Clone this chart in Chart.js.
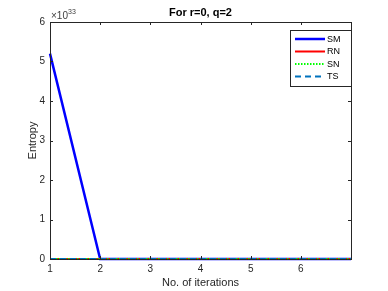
<!DOCTYPE html>
<html>
<head>
<meta charset="utf-8">
<script src="https://cdn.jsdelivr.net/npm/chart.js@4"></script>
<style>
  html, body { margin: 0; padding: 0; background: #fff; }
  #wrap { width: 388px; height: 291px; }
</style>
</head>
<body>
<div id="wrap"><canvas id="c" width="388" height="291"></canvas></div>
<script>
// iterations and entropy values (units of 1e33)
const iterations = [1, 2, 3, 4, 5, 6, 7];
const smValues = [5.2, 0, 0, 0, 0, 0, 0];
const rnValues = [0, 0, 0, 0, 0, 0, 0];
const snValues = [0, 0, 0, 0, 0, 0, 0];
const tsValues = [0, 0, 0, 0, 0, 0, 0];
const xTicks = [1, 2, 3, 4, 5, 6];
const yTicks = [0, 1, 2, 3, 4, 5, 6];

const toPts = vals => vals.map((v, i) => ({ x: iterations[i], y: v }));

const font = '"Liberation Sans", Arial, sans-serif';

const matlabPlugin = {
  id: 'matlabBox',
  afterDraw(chart) {
    const ctx = chart.ctx;
    const a = chart.chartArea;
    const xs = chart.scales.x, ys = chart.scales.y;
    ctx.save();
    // box
    ctx.strokeStyle = '#262626';
    ctx.lineWidth = 1;
    ctx.strokeRect(Math.round(a.left) + 0.5, Math.round(a.top) + 0.5,
      Math.round(a.right - a.left), Math.round(a.bottom - a.top));
    // ticks inward
    xTicks.forEach(t => {
      const px = Math.round(xs.getPixelForValue(t)) + 0.5;
      ctx.beginPath();
      ctx.moveTo(px, a.bottom); ctx.lineTo(px, a.bottom - 3);
      ctx.moveTo(px, a.top); ctx.lineTo(px, a.top + 3);
      ctx.stroke();
    });
    yTicks.forEach(t => {
      const py = Math.round(ys.getPixelForValue(t)) + 0.5;
      ctx.beginPath();
      ctx.moveTo(a.left, py); ctx.lineTo(a.left + 3, py);
      ctx.moveTo(a.right, py); ctx.lineTo(a.right - 3, py);
      ctx.stroke();
    });
    // title
    ctx.fillStyle = '#000';
    ctx.font = 'bold 11px ' + font;
    ctx.textAlign = 'center';
    ctx.textBaseline = 'middle';
    ctx.fillText('For r=0, q=2', (a.left + a.right) / 2, 13);
    // exponent
    ctx.fillStyle = '#404040';
    ctx.font = '10px ' + font;
    ctx.textAlign = 'left';
    ctx.fillText('\u00d710', a.left + 1, 16);
    ctx.font = '7px ' + font;
    ctx.fillText('33', a.left + 18, 12);
    // axis labels
    ctx.fillStyle = '#262626';
    ctx.font = '11px ' + font;
    ctx.textAlign = 'center';
    ctx.fillText('No. of iterations', (a.left + a.right) / 2, 283);
    ctx.save();
    ctx.translate(33, (a.top + a.bottom) / 2);
    ctx.rotate(-Math.PI / 2);
    ctx.fillText('Entropy', 0, 0);
    ctx.restore();
    // legend
    const lx = 290, ly = 30, lw = 61, lh = 56;
    ctx.fillStyle = '#fff';
    ctx.fillRect(lx, ly, lw, lh);
    ctx.strokeStyle = '#262626';
    ctx.lineWidth = 1;
    ctx.strokeRect(lx + 0.5, ly + 0.5, lw, lh);
    chart.data.datasets.forEach((ds, i) => {
      const y = ly + 9 + i * 12.5;
      ctx.beginPath();
      ctx.strokeStyle = ds.borderColor;
      ctx.lineWidth = ds.borderWidth;
      ctx.setLineDash(ds.borderDash || []);
      ctx.moveTo(lx + 5, y); ctx.lineTo(lx + 35, y);
      ctx.stroke();
      ctx.setLineDash([]);
      ctx.fillStyle = '#000';
      ctx.font = '9px ' + font;
      ctx.textAlign = 'left';
      ctx.fillText(ds.label, lx + 37, y + 0.5);
    });
    ctx.restore();
  }
};

new Chart(document.getElementById('c').getContext('2d'), {
  type: 'line',
  data: {
    datasets: [
      { label: 'SM', data: toPts(smValues), borderColor: '#0000ff', borderWidth: 2.5, order: 4 },
      { label: 'RN', data: toPts(rnValues), borderColor: '#ff0000', borderWidth: 2, order: 3 },
      { label: 'SN', data: toPts(snValues), borderColor: '#00ff00', borderWidth: 2, borderDash: [1.5, 1.5], order: 2 },
      { label: 'TS', data: toPts(tsValues), borderColor: '#0072bd', borderWidth: 2, borderDash: [6, 4], order: 1 }
    ]
  },
  options: {
    responsive: false,
    animation: false,
    clip: false,
    elements: { point: { radius: 0 }, line: { tension: 0 } },
    layout: { padding: { left: 0, right: 37, top: 22, bottom: 0 } },
    plugins: { legend: { display: false }, tooltip: { enabled: false }, title: { display: false } },
    scales: {
      x: {
        type: 'linear', min: 1, max: 7,
        afterBuildTicks: s => { s.ticks = xTicks.map(v => ({ value: v })); },
        afterFit: s => { s.height = 32; },
        grid: { display: false, tickLength: 0 },
        border: { display: false },
        ticks: { color: '#262626', font: { size: 10, family: font }, padding: 4, maxRotation: 0 }
      },
      y: {
        min: 0, max: 6,
        afterBuildTicks: s => { s.ticks = yTicks.map(v => ({ value: v })); },
        afterFit: s => { s.width = 50; },
        grid: { display: false, tickLength: 0 },
        border: { display: false },
        ticks: { color: '#262626', font: { size: 10, family: font }, padding: 5 }
      }
    }
  },
  plugins: [matlabPlugin]
});
</script>
</body>
</html>
